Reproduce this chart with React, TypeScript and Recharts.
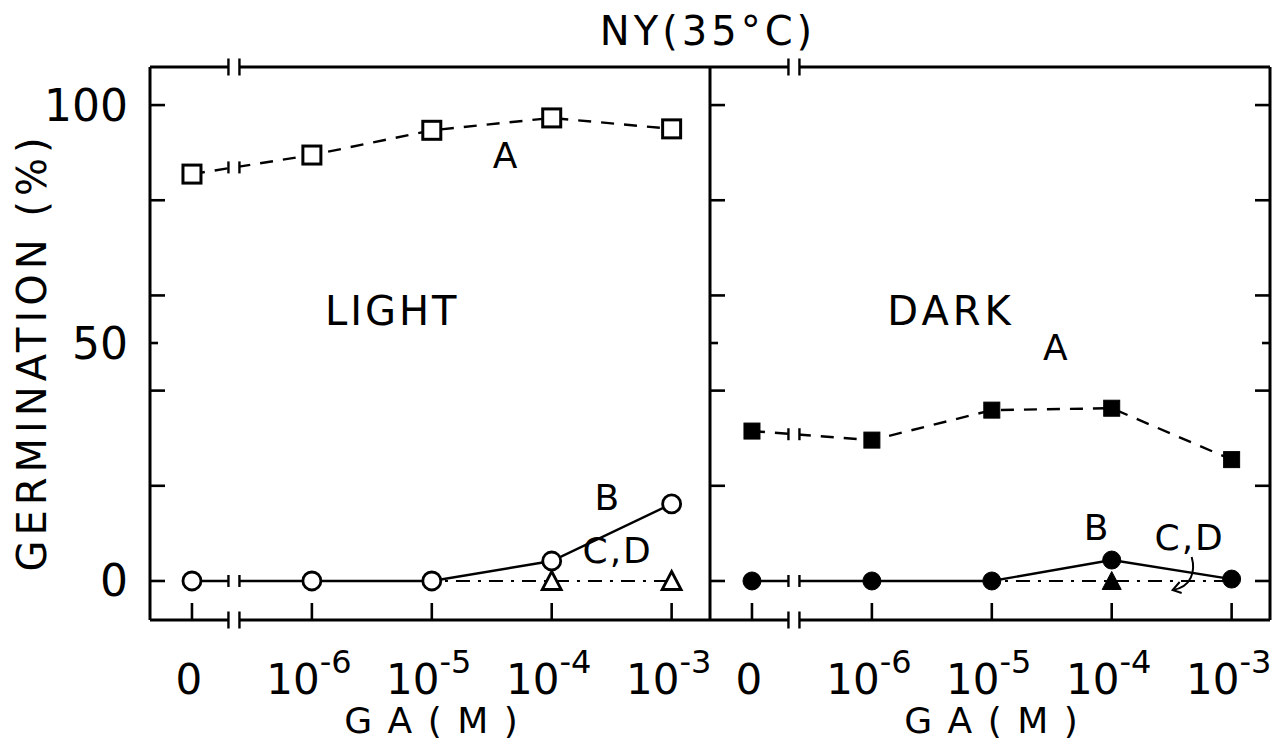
import React from "react";
import { LineChart, Line, XAxis, YAxis, ReferenceLine, ReferenceDot } from "recharts";

// GA concentration categories (0, 1e-6 ... 1e-3 M), shown as 0 and 10^n
const doseBase = ["0", "10", "10", "10", "10"];
const doseExp = ["", "-6", "-5", "-4", "-3"];

// LIGHT panel, germination %
const lightA = [85.5, 89.5, 94.7, 97.3, 95.0];
const lightB = [0, 0, 0, 4.2, 16.2];
const lightCD = [0, 0, 0, 0, 0];

// DARK panel, germination %
const darkA = [31.5, 29.6, 35.9, 36.3, 25.5];
const darkB = [0, 0, 0, 4.4, 0.4];
const darkCD = [0, 0, 0, 0, 0];

const yTicks = [0, 20, 40, 50, 60, 80, 100];
const yLabels = [0, 50, 100];

const FONT = "'DejaVu Sans', 'Liberation Sans', sans-serif";
const Y_MIN = -8.2;
const Y_MAX = 108;
const X_MIN = -0.35;
const X_MAX = 4.32;
const BREAK_X = 0.35;
const W = 2.6;

const toRows = (a: number[], b: number[], cd: number[]) =>
  a.map((v, i) => ({ x: i, a: v, b: b[i], cd: cd[i] }));

const lightData = toRows(lightA, lightB, lightCD);
const darkData = toRows(darkA, darkB, darkCD);

const at = (arr: number[], t: number) => arr[0] + (arr[1] - arr[0]) * t;

function Square({ cx, cy, filled }: any) {
  const s = filled ? 16 : 18;
  return (
    <rect x={cx - s / 2} y={cy - s / 2} width={s} height={s} fill={filled ? "#000" : "#fff"} stroke="#000" strokeWidth={filled ? 1 : 3} />
  );
}

function Circle({ cx, cy, filled }: any) {
  return <circle cx={cx} cy={cy} r={9} fill={filled ? "#000" : "#fff"} stroke="#000" strokeWidth={filled ? 1 : 2.8} />;
}

function Triangle({ cx, cy, filled }: any) {
  const h = 17;
  const w = 19;
  return (
    <path
      d={`M${cx},${cy - h / 2 - 1} L${cx + w / 2},${cy + h / 2} L${cx - w / 2},${cy + h / 2} Z`}
      fill={filled ? "#000" : "#fff"}
      stroke="#000"
      strokeWidth={filled ? 1 : 2.8}
    />
  );
}

// "-| |-" scale break: white gap with two short bars
const breakShape = (h: number) => (p: any) => (
  <g>
    <rect x={p.cx - 5} y={p.cy - h / 2 - 2} width={10} height={h + 4} fill="#fff" />
    <line x1={p.cx - 5.5} x2={p.cx - 5.5} y1={p.cy - h / 2} y2={p.cy + h / 2} stroke="#000" strokeWidth={2.4} />
    <line x1={p.cx + 5.5} x2={p.cx + 5.5} y1={p.cy - h / 2} y2={p.cy + h / 2} stroke="#000" strokeWidth={2.4} />
  </g>
);

const note = (text: string, size = 38, spacing = 2) => (p: any) => (
  <text x={p.cx} y={p.cy} textAnchor="middle" dominantBaseline="central" fontFamily={FONT} fontSize={size} letterSpacing={spacing} fill="#000">
    {text}
  </text>
);

function DoseTick({ x, y, payload }: any) {
  const i = payload.value as number;
  return (
    <g>
      <line x1={x} x2={x} y1={y} y2={y - 17} stroke="#000" strokeWidth={W} />
      <text x={x - 3} y={y + 74} textAnchor="middle" fontFamily={FONT} fontSize={42} fill="#000">
        {doseBase[i]}
        {doseExp[i] ? (
          <tspan dy={-21} fontSize={32}>
            {doseExp[i]}
          </tspan>
        ) : null}
      </text>
    </g>
  );
}

function LeftTick({ x, y, payload, showLabel }: any) {
  const v = payload.value as number;
  const len = v === 50 ? 8 : 15;
  return (
    <g>
      <line x1={x} x2={x + len} y1={y} y2={y} stroke="#000" strokeWidth={W} />
      {showLabel && yLabels.includes(v) ? (
        <text x={x - 22} y={y} textAnchor="end" dominantBaseline="central" fontFamily={FONT} fontSize={44} fill="#000">
          {v}
        </text>
      ) : null}
    </g>
  );
}

function RightTick({ x, y, payload }: any) {
  const v = payload.value as number;
  const len = v === 50 ? 8 : 15;
  return <line x1={x} x2={x - len} y1={y} y2={y} stroke="#000" strokeWidth={W} />;
}

function Panel({ data, a, b, cd, filled, right }: any) {
  const common = { isAnimationActive: false, activeDot: false as const };
  const triDot = (p: any) => {
    const show = Math.abs(b[p.index] - cd[p.index]) > 2;
    return show ? <Triangle key={`t${p.index}`} cx={p.cx} cy={p.cy} filled={filled} /> : <g key={`t${p.index}`} />;
  };
  return (
    <LineChart
      width={right ? 627 : 712}
      height={742}
      data={data}
      margin={{ top: 67, right: right ? 0 : 2, bottom: 0, left: 0 }}
    >
      <XAxis
        dataKey="x"
        type="number"
        domain={[X_MIN, X_MAX]}
        allowDataOverflow
        ticks={[0, 1, 2, 3, 4]}
        height={122}
        tickSize={0}
        tickMargin={0}
        tickLine={false}
        axisLine={{ stroke: "#000", strokeWidth: 3 }}
        tick={<DoseTick />}
        interval={0}
      />
      <YAxis
        yAxisId="y"
        type="number"
        domain={[Y_MIN, Y_MAX]}
        allowDataOverflow
        ticks={yTicks}
        width={right ? 60 : 150}
        tickSize={0}
        tickMargin={0}
        tickLine={false}
        axisLine={{ stroke: "#000", strokeWidth: 3 }}
        tick={<LeftTick showLabel={!right} />}
        interval={0}
      />
      {right ? (
        <YAxis
          yAxisId="r"
          orientation="right"
          type="number"
          domain={[Y_MIN, Y_MAX]}
          allowDataOverflow
          ticks={yTicks}
          width={7}
          tickSize={0}
          tickMargin={0}
          tickLine={false}
          axisLine={{ stroke: "#000", strokeWidth: 3 }}
          tick={<RightTick />}
          interval={0}
        />
      ) : null}
      <ReferenceLine yAxisId="y" y={Y_MAX} stroke="#000" strokeWidth={3} ifOverflow="visible" />

      <Line {...common} yAxisId="y" dataKey="cd" stroke="#000" strokeWidth={2.2} strokeDasharray="14 8 3 8" dot={triDot} />
      <Line
        {...common}
        yAxisId="y"
        dataKey="b"
        stroke="#000"
        strokeWidth={2.4}
        dot={(p: any) => <Circle key={`c${p.index}`} cx={p.cx} cy={p.cy} filled={filled} />}
      />
      <Line
        {...common}
        yAxisId="y"
        dataKey="a"
        stroke="#000"
        strokeWidth={2.4}
        strokeDasharray="13 10"
        dot={(p: any) => <Square key={`s${p.index}`} cx={p.cx} cy={p.cy} filled={filled} />}
      />

      <ReferenceDot yAxisId="y" x={BREAK_X} y={Y_MAX} r={0} ifOverflow="visible" shape={breakShape(17)} zIndex={1500} />
      <ReferenceDot yAxisId="y" x={BREAK_X} y={Y_MIN} r={0} ifOverflow="visible" shape={breakShape(17)} zIndex={1500} />
      <ReferenceDot yAxisId="y" x={BREAK_X} y={at(a, BREAK_X)} r={0} ifOverflow="visible" shape={breakShape(12)} zIndex={1500} />
      <ReferenceDot yAxisId="y" x={BREAK_X} y={at(b, BREAK_X)} r={0} ifOverflow="visible" shape={breakShape(12)} zIndex={1500} />

      {right ? (
        <>
          <ReferenceDot yAxisId="y" x={1.66} y={56.7} r={0} ifOverflow="visible" shape={note("DARK", 40, 4)} zIndex={1500} />
          <ReferenceDot yAxisId="y" x={2.53} y={49} r={0} ifOverflow="visible" shape={note("A", 36, 0)} zIndex={1500} />
          <ReferenceDot yAxisId="y" x={2.87} y={11.2} r={0} ifOverflow="visible" shape={note("B", 36, 0)} zIndex={1500} />
          <ReferenceDot yAxisId="y" x={3.65} y={9.2} r={0} ifOverflow="visible" shape={note("C,D", 36, 2)} zIndex={1500} />
          <ReferenceDot
            yAxisId="y"
            x={3.65}
            y={0}
            r={0}
            ifOverflow="visible"
            zIndex={1500}
            shape={(p: any) => (
              <g fill="none" stroke="#000" strokeWidth={2}>
                <path d={`M${p.cx + 2},${p.cy - 24} C${p.cx + 6},${p.cy - 10} ${p.cx + 2},${p.cy + 6} ${p.cx - 17},${p.cy + 9}`} />
                <path d={`M${p.cx - 10},${p.cy + 1} L${p.cx - 17},${p.cy + 9} L${p.cx - 8},${p.cy + 12}`} />
              </g>
            )}
          />
        </>
      ) : (
        <>
          <ReferenceDot yAxisId="y" x={1.67} y={56.7} r={0} ifOverflow="visible" shape={note("LIGHT", 40, 3)} zIndex={1500} />
          <ReferenceDot yAxisId="y" x={2.61} y={89.5} r={0} ifOverflow="visible" shape={note("A", 36, 0)} zIndex={1500} />
          <ReferenceDot yAxisId="y" x={3.46} y={17.6} r={0} ifOverflow="visible" shape={note("B", 36, 0)} zIndex={1500} />
          <ReferenceDot yAxisId="y" x={3.55} y={6.4} r={0} ifOverflow="visible" shape={note("C,D", 36, 2)} zIndex={1500} />
        </>
      )}
    </LineChart>
  );
}

export default function App() {
  return (
    <div style={{ position: "absolute", left: 0, top: 0, width: 1277, height: 742, background: "#fff", overflow: "hidden" }}>
      <div style={{ position: "absolute", left: 0, top: 0 }}>
        <Panel data={lightData} a={lightA} b={lightB} cd={lightCD} filled={false} right={false} />
      </div>
      <div style={{ position: "absolute", left: 650, top: 0 }}>
        <Panel data={darkData} a={darkA} b={darkB} cd={darkCD} filled={true} right={true} />
      </div>
      <svg width={1277} height={742} style={{ position: "absolute", left: 0, top: 0, pointerEvents: "none" }}>
        <text x={708} y={45} textAnchor="middle" fontFamily={FONT} fontSize={40} letterSpacing={4} fill="#000">
          NY(35°C)
        </text>
        <text
          x={0}
          y={0}
          transform="translate(46,352) rotate(-90)"
          textAnchor="middle"
          fontFamily={FONT}
          fontSize={40}
          letterSpacing={5}
          fill="#000"
        >
          GERMINATION (%)
        </text>
        <text x={432} y={733} textAnchor="middle" fontFamily={FONT} fontSize={36} letterSpacing={2} fill="#000">
          G A ( M )
        </text>
        <text x={992} y={733} textAnchor="middle" fontFamily={FONT} fontSize={36} letterSpacing={2} fill="#000">
          G A ( M )
        </text>
      </svg>
    </div>
  );
}
